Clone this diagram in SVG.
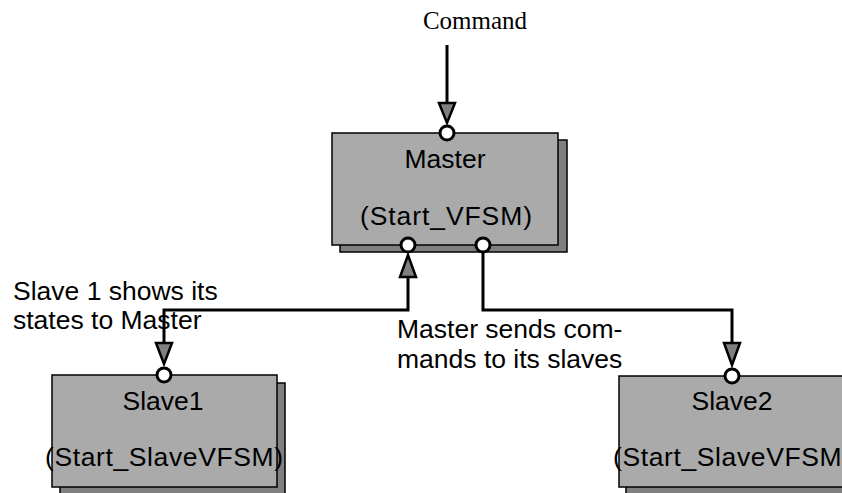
<svg xmlns="http://www.w3.org/2000/svg" width="842" height="493" viewBox="0 0 842 493">
<style>
.shadow{fill:#808080;stroke:#000;stroke-width:1.5}
.box{fill:#aaaaaa;stroke:#000;stroke-width:1.5}
.port{fill:#fff;stroke:#000;stroke-width:3}
.wire{fill:none;stroke:#000;stroke-width:3}
.head{fill:#808080;stroke:#000;stroke-width:2.5;stroke-linejoin:miter}
.t{font-family:"Liberation Sans",Arial,sans-serif;font-size:26.5px;fill:#000}
.c{text-anchor:middle}
.cmd{font-family:"Liberation Serif","Times New Roman",serif;font-size:25px;fill:#000;text-anchor:middle}
</style>
<rect width="842" height="493" fill="#fff"/>
<g id="connectors">
<line class="wire" x1="447" y1="45" x2="447" y2="104"/>
<polygon class="head" points="439,103 455,103 447,123"/>
<polyline class="wire" points="408,275 408,310 164,310 164,344"/>
<polygon class="head" points="400,277 416,277 408,255"/>
<polygon class="head" points="156,343 172,343 164,364"/>
<polyline class="wire" points="483,251 483,310 732,310 732,344"/>
<polygon class="head" points="724,343 740,343 732,365"/>
</g>
<g id="master">
<rect class="shadow" x="340" y="140" width="227" height="112"/>
<rect class="box" x="332" y="133" width="226" height="112"/>
<text class="t c" x="445" y="168">Master</text>
<text class="t c" x="446" y="225" textLength="172" lengthAdjust="spacing">(Start_VFSM)</text>
<circle class="port" cx="447" cy="133" r="7"/>
<circle class="port" cx="408" cy="245" r="7"/>
<circle class="port" cx="483" cy="245" r="7"/>
</g>
<g id="slave1">
<rect class="shadow" x="60" y="383" width="225" height="115"/>
<rect class="box" x="52" y="375" width="225" height="112"/>
<text class="t c" x="163" y="410">Slave1</text>
<text class="t c" x="164" y="466" textLength="238" lengthAdjust="spacing">(Start_SlaveVFSM)</text>
<circle class="port" cx="164" cy="375" r="7"/>
</g>
<g id="slave2">
<rect class="shadow" x="626" y="383" width="226" height="115"/>
<rect class="box" x="619" y="376" width="226" height="111"/>
<text class="t c" x="732" y="410">Slave2</text>
<text class="t c" x="732" y="466" textLength="238" lengthAdjust="spacing">(Start_SlaveVFSM)</text>
<circle class="port" cx="732" cy="376" r="7"/>
</g>
<g id="labels">
<text class="cmd" x="475" y="29">Command</text>
<text class="t" x="13" y="300">Slave 1 shows its</text>
<text class="t" x="13" y="329">states to Master</text>
<text class="t" x="397" y="338">Master sends com-</text>
<text class="t" x="397" y="368">mands to its slaves</text>
</g>
</svg>
